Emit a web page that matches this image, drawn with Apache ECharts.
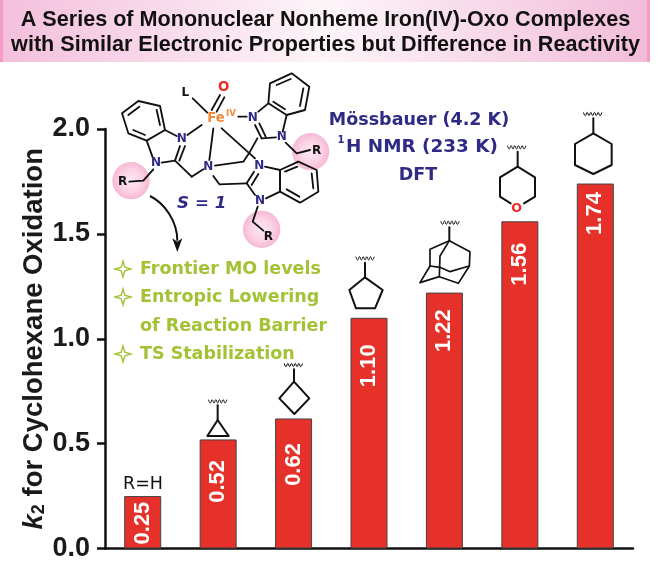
<!DOCTYPE html>
<html><head><meta charset="utf-8">
<style>html,body{margin:0;padding:0;background:#fff}#c{width:661px;height:562px}</style>
<script src="https://cdn.jsdelivr.net/npm/echarts@6/dist/echarts.min.js"></script>
</head><body><div id="c"></div>
<script>
// ---- chart data ----
const categories = ['H','cyclopropyl','cyclobutyl','cyclopentyl','adamantyl','tetrahydropyranyl','cyclohexyl'];
const k2Values = [0.25,0.52,0.62,1.10,1.22,1.56,1.74];
const yTicks = {min:0,max:2,interval:0.5};
const titleLines = ['A Series of Mononuclear Nonheme Iron(IV)-Oxo Complexes','with Similar Electronic Properties but Difference in Reactivity'];
const greenNotes = ['Frontier MO levels','Entropic Lowering','of Reaction Barrier','TS Stabilization'];
const techniqueNotes = ['Mössbauer (4.2 K)','H NMR (233 K)','DFT'];
// ---- label placement (px below each bar top) ----
const labelDrop = [27,42,46,48,38,43,30];

const INK='#111', NAVY='#2f2a86', GREEN='#a3c236', ORANGE='#f28a3c', RED='#ee2a24';
const COMIC='"DejaVu Sans"';
function line(pts,lw,color,close){return {type:close?'polygon':'polyline',shape:{points:pts},style:{stroke:color||INK,lineWidth:lw||5.5,fill:close?'none':null,lineJoin:'round',lineCap:'round'},silent:true};}
function txt(x,y,t,size,color,extra){return {type:'text',x:x,y:y,silent:true,style:Object.assign({text:t,font:'bold '+size+'px '+COMIC,fill:color||INK,align:'center',verticalAlign:'middle'},extra||{})};}
function wave(cx,cy){const p=[];for(let i=-5;i<=5;i++)p.push([cx+i*5.5,cy+(i%2?-5:5)]);return {type:'polyline',shape:{points:p,smooth:0.6},style:{stroke:INK,lineWidth:3,fill:null},silent:true};}
function pinkDisc(cx,cy,r){return {type:'circle',shape:{cx:cx,cy:cy,r:r},silent:true,style:{fill:{type:'radial',x:0.5,y:0.5,r:0.5,colorStops:[{offset:0,color:'#fdeaf2'},{offset:0.6,color:'#fbd2e4'},{offset:1,color:'#f6b8d4'}]}}};}

// complex, in 3x units of the crop at (100,70)
const complexKids=[
 pinkDisc(93,332,56),pinkDisc(632,245,56),pinkDisc(485,478,56),
 // left benzimidazole
 line([[66,130],[115,93],[180,108],[195,180],[140,212],[85,190]],5.5,INK,true),
 line([[85,135],[118,110]]),line([[170,120],[180,165]]),line([[100,180],[135,195]]),
 line([[195,180],[230,198]]),line([[140,212],[158,262]]),line([[240,228],[225,272]]),line([[255,228],[238,272]]),
 line([[225,272],[185,278]]),line([[225,272],[275,320]]),line([[275,320],[310,298]]),
 line([[160,298],[130,332],[88,335]]),
 // centre
 line([[305,165],[262,195]]),line([[340,175],[328,270]]),line([[365,175],[465,265]]),
 line([[278,85],[322,128]]),line([[335,120],[360,75]]),line([[350,125],[373,82]]),
 line([[415,140],[440,140]]),
 line([[345,287],[430,275],[450,245],[472,205]]),
 // right benzimidazole
 line([[510,40],[575,10],[628,50],[615,120],[560,135],[505,100]],5.5,INK,true),
 line([[530,45],[572,27]]),line([[610,55],[600,108]]),line([[520,95],[555,118]]),
 line([[475,125],[505,100]]),line([[560,135],[548,185]]),line([[465,165],[485,205]]),line([[478,160],[497,200]]),
 line([[485,205],[528,202]]),line([[557,218],[590,250],[630,240]]),
 // lower benzimidazole
 line([[540,300],[595,275],[650,300],[655,365],[600,398],[540,365]],5.5,INK,true),
 line([[555,305],[592,290]]),line([[635,310],[640,355]]),line([[560,358],[598,380]]),
 line([[495,290],[540,300]]),line([[498,385],[540,365]]),line([[540,300],[540,365]]),
 line([[462,305],[440,340]]),line([[475,312],[455,345]]),line([[440,340],[465,375]]),
 line([[440,340],[358,343],[340,318]]),
 line([[473,410],[458,455],[490,482]]),
 // heteroatoms
 txt(245,208,'N',36,NAVY),txt(168,280,'N',36,NAVY),txt(325,292,'N',36,NAVY),txt(458,145,'N',36,NAVY),
 txt(545,200,'N',36,NAVY),txt(478,288,'N',36,NAVY),txt(480,392,'N',36,NAVY),
 txt(348,145,'Fe',40,ORANGE),txt(393,130,'IV',26,ORANGE),txt(371,53,'O',40,RED),txt(256,68,'L',36,INK),
 txt(68,335,'R',36,INK),txt(650,243,'R',36,INK),txt(505,500,'R',36,INK),
 {type:'text',x:305,y:402,silent:true,style:{text:'S = 1',font:'italic bold 50px '+COMIC,fill:NAVY,align:'center',verticalAlign:'middle'}},
 // arrow
 {type:'bezierCurve',silent:true,shape:{x1:150,y1:378,x2:232,y2:512,cpx1:195,cpy1:400,cpx2:232,cpy2:455},style:{stroke:INK,lineWidth:6,fill:null}},
 {type:'polygon',silent:true,shape:{points:[[217,505],[232,515],[247,505],[232,546]]},style:{fill:INK}}
];

// substituents, in 3x units of the crop at (340,70)
const ringKids=[
 // cyclopentyl
 wave(75,565),line([[75,578],[75,622]],6),line([[75,622],[128,660],[105,715],[48,715],[28,660]],6,INK,true),
 // adamantyl
 wave(330,458),line([[328,472],[328,512]],6),
 line([[328,512],[390,545],[388,588],[355,640],[298,620],[240,638],[270,588],[270,538]],5,INK,true),
 line([[328,512],[300,558],[298,620]],5),line([[270,588],[300,592],[330,605],[388,588]],5),
 // tetrahydropyranyl
 wave(530,232),line([[533,245],[533,290]],6),line([[512,400],[480,380],[480,322],[533,290],[585,322],[585,380],[552,400]],6),
 txt(530,415,'O',38,RED),
 // cyclohexyl
 wave(758,132),line([[760,145],[760,190]],6),line([[760,190],[815,222],[815,285],[760,312],[705,285],[705,222]],6,INK,true)
];
// small rings, in 3x units of the crop at (0,400)
const smallKids=[
 wave(653,4),line([[653,16],[653,60]],6),line([[653,60],[622,108],[686,108]],6,INK,true),
 wave(880,-105),line([[882,-92],[882,-55]],6),line([[882,-55],[838,-5],[883,42],[928,-5]],6,INK,true)
];

function star(cx,cy){const s=8,t=1.8;return {type:'polygon',silent:true,shape:{points:[[cx,cy-s],[cx+t,cy-t],[cx+s,cy],[cx+t,cy+t],[cx,cy+s],[cx-t,cy+t],[cx-s,cy],[cx-t,cy-t]]},style:{fill:'#fff',stroke:GREEN,lineWidth:1.4}};}
const noteY=[269,297,326,354], noteStar=[true,true,false,true];
const noteEls=[];
greenNotes.forEach((t,i)=>{
  noteEls.push({type:'text',x:140,y:noteY[i],silent:true,style:{text:t,font:'bold 17.5px '+COMIC,fill:GREEN,align:'left',verticalAlign:'middle'}});
  if(noteStar[i])noteEls.push(star(123,noteY[i]));
});
const techY=[120,147,175], techX=[419,422,418], techSize=[17.5,18.4,17.5];
const techEls=techniqueNotes.map((t,i)=>({type:'text',x:techX[i],y:techY[i],silent:true,style:{text:t,font:'bold '+techSize[i]+'px '+COMIC,fill:NAVY,align:'center',verticalAlign:'middle'}}));
techEls.push({type:'text',x:341,y:140,silent:true,style:{text:'1',font:'bold 10px '+COMIC,fill:NAVY,align:'center',verticalAlign:'middle'}});

const graphic=[
 {type:'rect',silent:true,z:0,shape:{x:0,y:0,width:650,height:62},style:{fill:{type:'linear',x:0,y:0,x2:1,y2:0,colorStops:[{offset:0,color:'#f4bfdc'},{offset:0.5,color:'#fdf5f9'},{offset:1,color:'#f2bcd9'}]}}},
 {type:'rect',silent:true,shape:{x:0,y:0,width:3,height:62},style:{fill:'#f49ac4'}},
 {type:'rect',silent:true,shape:{x:647,y:0,width:3,height:62},style:{fill:'#f49ac4'}},
 {type:'text',x:325.5,y:20.5,silent:true,style:{text:titleLines[0],font:'bold 21.6px "Liberation Sans"',fill:INK,align:'center',verticalAlign:'middle'}},
 {type:'text',x:325.5,y:45,silent:true,style:{text:titleLines[1],font:'bold 21.6px "Liberation Sans"',fill:INK,align:'center',verticalAlign:'middle'}},
 {type:'group',x:100,y:70,scaleX:1/3,scaleY:1/3,children:complexKids},
 {type:'group',x:340,y:70,scaleX:1/3,scaleY:1/3,children:ringKids},
 {type:'group',x:0,y:400,scaleX:1/3,scaleY:1/3,children:smallKids},
 {type:'text',x:143,y:484,silent:true,style:{text:'R=H',font:'17.5px '+COMIC,fill:INK,align:'center',verticalAlign:'middle'}}
].concat(noteEls,techEls);

const chart=echarts.init(document.getElementById('c'),null,{renderer:'canvas'});
chart.setOption({
 animation:false,
 backgroundColor:'#fff',
 grid:{left:105,right:28,top:129,bottom:9,containLabel:false},
 xAxis:{type:'category',data:categories,axisLabel:{show:false},axisTick:{show:false},axisLine:{lineStyle:{color:INK,width:2.5}}},
 yAxis:{type:'value',min:yTicks.min,max:yTicks.max,interval:yTicks.interval,splitLine:{show:false},
  axisLine:{show:true,lineStyle:{color:INK,width:2.5}},
  axisTick:{show:true,length:8,lineStyle:{color:INK,width:2.5}},
  axisLabel:{margin:15,formatter:v=>v.toFixed(1),fontFamily:'Liberation Sans',fontWeight:'bold',fontSize:27,color:'#1a1a1a'},
  name:'{k|k}{s|2}{n| for Cyclohexane Oxidation}',nameLocation:'middle',nameGap:57,nameMoveOverlap:false,
  nameTextStyle:{rich:{
   k:{fontFamily:'Liberation Sans',fontStyle:'italic',fontWeight:'bold',fontSize:27.5,color:'#1a1a1a'},
   s:{fontFamily:'Liberation Sans',fontWeight:'bold',fontSize:18,color:'#1a1a1a',verticalAlign:'bottom',padding:[8,0,0,0]},
   n:{fontFamily:'Liberation Sans',fontWeight:'bold',fontSize:27.5,color:'#1a1a1a'}}}},
 series:[{type:'bar',barWidth:37,
  data:k2Values.map((v,i)=>({value:v,label:{position:['50%',labelDrop[i]]}})),
  itemStyle:{color:'#e6302a',borderColor:'#444',borderWidth:1},
  label:{show:true,rotate:90,align:'center',verticalAlign:'middle',color:'#fff',fontFamily:'Liberation Sans',fontWeight:'bold',fontSize:22,
   formatter:p=>p.value.toFixed(2)}}],
 graphic:graphic
});
</script></body></html>
